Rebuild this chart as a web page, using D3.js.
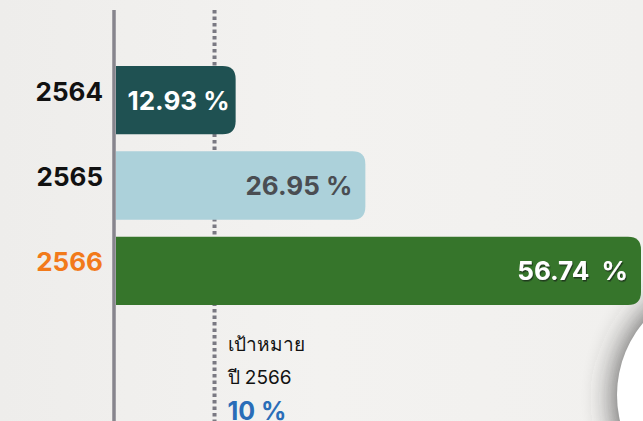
<!DOCTYPE html>
<html>
<head>
<meta charset="utf-8">
<script src="https://cdn.jsdelivr.net/npm/d3@7"></script>
<style>
  html, body { margin: 0; padding: 0; background: #f0efed; overflow: hidden; }
  svg { display: block; font-family: Inter, "Noto Sans", sans-serif; }
</style>
</head>
<body>
<div id="grafico"></div>
<script>
// dados do gráfico
var anos = ['2564', '2565', '2566'];
var valores = [12.93, 26.95, 56.74];
var rotulos = ['12.93 %', '26.95 %', '56.74  %'];
var meta = 10;
var metaTexto = ['เป้าหมาย', 'ปี 2566', '10 %'];

var largura = 643, altura = 421;

var svg = d3.select('#grafico').append('svg')
    .attr('width', largura)
    .attr('height', altura);

var defs = svg.append('defs');

var grad = defs.append('linearGradient').attr('id', 'fundo').attr('x1', 0).attr('x2', 1).attr('y1', 0).attr('y2', 0);
grad.append('stop').attr('offset', '0%').attr('stop-color', '#eeedeb');
grad.append('stop').attr('offset', '50%').attr('stop-color', '#f3f2f0');
grad.append('stop').attr('offset', '100%').attr('stop-color', '#f1f0ee');

var sombraCirculo = defs.append('filter').attr('id', 'sombraCirculo')
    .attr('x', '-50%').attr('y', '-50%').attr('width', '200%').attr('height', '200%');
sombraCirculo.append('feGaussianBlur').attr('stdDeviation', 16);

var sombraTexto = defs.append('filter').attr('id', 'sombraTexto');
sombraTexto.append('feDropShadow')
    .attr('dx', 1).attr('dy', 1.5).attr('stdDeviation', 0.6)
    .attr('flood-color', '#1b2a12').attr('flood-opacity', 0.8);

svg.append('rect').attr('width', largura).attr('height', altura).attr('fill', 'url(#fundo)');

var x = d3.scaleLinear().domain([0, d3.max(valores)]).range([116, 641]);
var y = d3.scaleBand().domain(anos).range([66, 305]).paddingInner(0.2).paddingOuter(0);

var cores = ['#1f5152', '#acd1da', '#36752b'];
var corTexto = ['#ffffff', '#4a4d52', '#ffffff'];
var corAno = ['#111111', '#111111', '#f27a1a'];

// círculo branco no canto
svg.append('circle').attr('cx', 738).attr('cy', 398).attr('r', 122)
    .attr('fill', '#3a3a3a').attr('opacity', 0.9).attr('filter', 'url(#sombraCirculo)');
svg.append('circle').attr('cx', 730).attr('cy', 395).attr('r', 113).attr('fill', '#ffffff');

// linha da meta
svg.append('line')
    .attr('x1', x(meta) + 6).attr('x2', x(meta) + 6)
    .attr('y1', 10).attr('y2', altura)
    .attr('stroke', '#7a7982').attr('stroke-width', 4)
    .attr('stroke-dasharray', '3.5,3');

// barras com cantos arredondados à direita
function barra(x0, x1, y0, h, r) {
    r = Math.min(r, x1 - x0);
    return 'M' + x0 + ',' + y0 +
        'H' + (x1 - r) +
        'Q' + x1 + ',' + y0 + ' ' + x1 + ',' + (y0 + r) +
        'V' + (y0 + h - r) +
        'Q' + x1 + ',' + (y0 + h) + ' ' + (x1 - r) + ',' + (y0 + h) +
        'H' + x0 + 'Z';
}

svg.selectAll('path.barra').data(valores).enter().append('path')
    .attr('class', 'barra')
    .attr('d', function(d, i) { return barra(x(0), x(d), y(anos[i]), y.bandwidth(), 13); })
    .attr('fill', function(d, i) { return cores[i]; });

svg.selectAll('text.valor').data(valores).enter().append('text')
    .attr('class', 'valor')
    .attr('x', function(d, i) { return x(d) - (i == 0 ? 6 : 13); })
    .attr('y', function(d, i) { return y(anos[i]) + y.bandwidth() / 2; })
    .attr('dy', '0.36em')
    .attr('text-anchor', 'end')
    .attr('font-size', 26)
    .attr('font-weight', 'bold')
    .attr('fill', function(d, i) { return corTexto[i]; })
    .attr('filter', function(d, i) { return i == 2 ? 'url(#sombraTexto)' : null; })
    .style('white-space', 'pre')
    .text(function(d, i) { return rotulos[i]; });

// eixo vertical
svg.append('line')
    .attr('x1', 114).attr('x2', 114)
    .attr('y1', 10).attr('y2', altura)
    .attr('stroke', '#87858d').attr('stroke-width', 3.5);

svg.selectAll('text.ano').data(anos).enter().append('text')
    .attr('class', 'ano')
    .attr('x', 103)
    .attr('y', function(d) { return y(d) + y.bandwidth() / 2 - 9; })
    .attr('dy', '0.36em')
    .attr('text-anchor', 'end')
    .attr('font-size', 26)
    .attr('font-weight', 'bold')
    .attr('fill', function(d, i) { return corAno[i]; })
    .text(function(d) { return d; });

// texto da meta
var tx = x(meta) + 19;
svg.append('text').attr('x', tx).attr('y', 351).attr('font-size', 19).attr('fill', '#111').text(metaTexto[0]);
svg.append('text').attr('x', tx).attr('y', 384).attr('font-size', 19).attr('fill', '#111').text(metaTexto[1]);
svg.append('text').attr('x', tx).attr('y', 420).attr('font-size', 25).attr('font-weight', 'bold')
    .attr('fill', '#2a6db8').text(metaTexto[2]);
</script>
</body>
</html>
